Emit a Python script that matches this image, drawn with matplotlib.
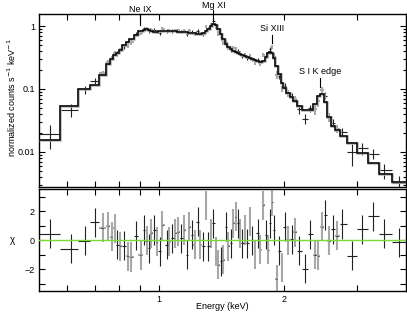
import numpy as np
import matplotlib
matplotlib.use("Agg")
import matplotlib.pyplot as plt
from matplotlib.ticker import FixedLocator, FixedFormatter, NullFormatter, LogLocator

# ---- data ----
energy = [0.545, 0.612, 0.662, 0.700, 0.730, 0.754, 0.768, 0.782, 0.792, 0.804,
          0.824, 0.839, 0.855, 0.879, 0.903, 0.919, 0.932, 0.943, 0.957, 0.973,
          0.986, 1.004, 1.017, 1.042, 1.055, 1.075, 1.091, 1.111, 1.128, 1.149,
          1.164, 1.181, 1.197, 1.219, 1.238, 1.253, 1.277, 1.296, 1.313, 1.332,
          1.349, 1.370, 1.387, 1.408, 1.426, 1.448, 1.467, 1.489, 1.508, 1.528,
          1.545, 1.565, 1.585, 1.609, 1.630, 1.654, 1.675, 1.701, 1.726, 1.748,
          1.781, 1.808, 1.831, 1.848, 1.872, 1.890, 1.918, 1.946, 1.976, 2.005,
          2.039, 2.085, 2.123, 2.175, 2.245, 2.308, 2.373, 2.417, 2.471, 2.508,
          2.569, 2.622, 2.681, 2.763, 2.913, 3.087, 3.279, 3.488, 3.771]

model = [0.0157, 0.0532, 0.0993, 0.115, 0.166, 0.248, 0.298, 0.345, 0.378, 0.422,
         0.498, 0.556, 0.621, 0.732, 0.833, 0.873, 0.896, 0.880, 0.848, 0.817,
         0.817, 0.833, 0.842, 0.848, 0.842, 0.833, 0.826, 0.817, 0.811, 0.803,
         0.797, 0.788, 0.779, 0.768, 0.760, 0.760, 0.774, 0.833, 0.912, 1.019,
         1.096, 1.037, 0.896, 0.746, 0.621, 0.517, 0.472, 0.430, 0.407, 0.385,
         0.372, 0.354, 0.341, 0.329, 0.321, 0.309, 0.300, 0.291, 0.282, 0.272,
         0.282, 0.327, 0.372, 0.385, 0.372, 0.315, 0.231, 0.172, 0.124, 0.103,
         0.0857, 0.0740, 0.0639, 0.0532, 0.0468, 0.0468, 0.0573, 0.0768, 0.0827, 0.0616,
         0.0360, 0.0256, 0.0221, 0.0179, 0.0141, 0.00962, 0.00666, 0.00451, 0.00332]

chi = [0.43, -0.6, -0.05, 1.23, 0.86, 0.97, 0.25, 0.82, -0.32, -0.43,
       -0.39, -1.1, -1.16, 0.3, -1.05, 0.7, -0.05, -0.55, 0.48, 0.7,
       -0.1, -0.78, 1.04, -0.32, -0.1, 0.14, 0.48, 0.59, 0.14, 0.7,
       -1.0, 0.93, 0.36, -0.32, 1.27, -0.32, -0.43, 2.4, -0.43, 0.48,
       1.16, -0.78, -1.68, -1.46, -1.34, 0.93, -0.43, -0.2, 1.16, 1.6,
       1.16, 0.48, -0.2, 0.7, -0.2, 1.27, 0.0, -1.0, 0.48, -0.66,
       2.4, 0.36, -0.66, 1.16, 2.63, 0.7, -2.7, -0.73, -1.91, 0.93,
       0.0, 0.05, 0.55, -0.73, -1.98, 0.41, -1.0, -1.07, 0.93, 1.73,
       -0.05, 0.75, 0.3, 1.11, -1.07, 0.75, 1.66, 0.43, -0.14]

rel_err = [0.5, 0.2, 0.15, 0.13, 0.09, 0.09, 0.09, 0.09, 0.09, 0.09,
           0.09, 0.09, 0.09, 0.09, 0.07, 0.07, 0.07, 0.07, 0.07, 0.07,
           0.07, 0.07, 0.07, 0.07, 0.07, 0.07, 0.07, 0.07, 0.07, 0.07,
           0.07, 0.07, 0.07, 0.07, 0.07, 0.07, 0.07, 0.07, 0.07, 0.07,
           0.08, 0.08, 0.08, 0.08, 0.08, 0.08, 0.08, 0.08, 0.08, 0.08,
           0.08, 0.08, 0.08, 0.08, 0.08, 0.08, 0.08, 0.08, 0.08, 0.08,
           0.1, 0.1, 0.1, 0.1, 0.1, 0.1, 0.1, 0.1, 0.1, 0.1,
           0.14, 0.14, 0.14, 0.14, 0.14, 0.14, 0.16, 0.16, 0.16, 0.16,
           0.16, 0.16, 0.16, 0.16, 0.28, 0.25, 0.25, 0.3, 0.3]

# detector: 0 = dark, 1 = grey
group = [0, 0, 0, 0, 1, 1, 1, 1, 0, 1,
         0, 1, 1, 0, 1, 0, 1, 0, 1, 0,
         1, 0, 1, 0, 1, 0, 1, 1, 0, 1,
         0, 1, 0, 1, 0, 1, 0, 1, 0, 1,
         0, 1, 1, 0, 1, 0, 1, 0, 1, 1,
         0, 1, 0, 1, 0, 1, 0, 1, 0, 1,
         1, 0, 1, 0, 1, 0, 1, 0, 1, 0,
         1, 0, 1, 0, 0, 0, 1, 1, 1, 0,
         1, 0, 1, 0, 0, 0, 0, 0, 0]

line_names = ["Ne IX", "Mg XI", "Si XIII", "S I K edge"]
line_energy = [0.90, 1.35, 1.865, 2.44]

# ---- derived ----
E = np.array(energy)
M = np.array(model)
C = np.array(chi)
R = np.array(rel_err)
G = np.array(group)
logE = np.log10(E)
mid = 10 ** ((logE[:-1] + logE[1:]) / 2)
lo = np.concatenate([[E[0] ** 2 / mid[0]], mid])
hi = np.concatenate([mid, [E[-1] ** 2 / mid[-1]]])
err = R * M
data = M + C * err
edges = np.concatenate([lo, [hi[-1]]])

plt.rcParams["font.family"] = ["Liberation Sans", "DejaVu Sans"]
fig = plt.figure(figsize=(4.07, 3.12), dpi=100)
W, H = 407.0, 312.0
x0, x1 = 39 / W, 406 / W
ax1 = fig.add_axes([x0, 1 - 187.3 / H, x1 - x0, (187.3 - 14.3) / H])
ax2 = fig.add_axes([x0, 1 - 291 / H, x1 - x0, (291 - 189.3) / H])

xlim = (0.513, 3.93)
styles = {0: dict(color="#222222", lw=0.8), 1: dict(color="#a8a8a8", lw=1.5)}

for g in (1, 0):
    m = G == g
    st = styles[g]
    ax1.errorbar(E[m], data[m], yerr=err[m], xerr=[E[m] - lo[m], hi[m] - E[m]],
                 fmt="none", ecolor=st["color"], elinewidth=st["lw"], capsize=0, zorder=2)
    ax2.errorbar(E[m], C[m], yerr=1.0, xerr=[E[m] - lo[m], hi[m] - E[m]],
                 fmt="none", ecolor=st["color"], elinewidth=st["lw"], capsize=0, zorder=2)
    if g == 1:
        ax2.errorbar(E[m], C[m], xerr=[(E[m] - lo[m]) * 0.3, (hi[m] - E[m]) * 0.3],
                     fmt="none", ecolor="#333333", elinewidth=0.8, capsize=0, zorder=3)

ax1.stairs(M, edges, color="#b4b4b4", lw=1.8, baseline=None, zorder=3)
ax1.stairs(M, edges, color="black", lw=1.1, baseline=None, zorder=4)

ax2.axhline(0, color="#77dd33", lw=1.0, zorder=4)

for ax in (ax1, ax2):
    ax.set_xscale("log")
    ax.set_xlim(*xlim)
    ax.xaxis.set_major_locator(FixedLocator([0.6, 0.7, 0.8, 0.9, 1, 2, 3]))
    ax.xaxis.set_minor_locator(FixedLocator([]))
    ax.tick_params(which="both", direction="in", top=True, right=True,
                   labelsize=6.5, width=0.8, pad=3)
    ax.tick_params(which="major", length=4)
    ax.tick_params(which="minor", length=2.2)
    for s in ax.spines.values():
        s.set_linewidth(1.0)

ax1.set_yscale("log")
ax1.set_ylim(0.00274, 1.535)
ax1.yaxis.set_major_locator(FixedLocator([0.01, 0.1, 1]))
ax1.yaxis.set_major_formatter(FixedFormatter(["0.01", "0.1", "1"]))
ax1.yaxis.set_minor_locator(LogLocator(base=10, subs=np.arange(2, 10), numticks=20))
ax1.yaxis.set_minor_formatter(NullFormatter())
ax1.xaxis.set_major_formatter(NullFormatter())

ax2.set_ylim(-3.5, 3.5)
ax2.yaxis.set_major_locator(FixedLocator([-3, -2, -1, 0, 1, 2, 3]))
ax2.yaxis.set_major_formatter(FixedFormatter(["", "\u22122", "", "0", "", "2", ""]))
ax2.xaxis.set_major_formatter(FixedFormatter(["", "", "", "", "1", "2", ""]))

# line markers
tr = ax1.get_xaxis_transform()
ax_h = 173.0
def fy(py):
    return (187.3 - py) / ax_h
marks = [(fy(9.3), fy(14.0), fy(25.0)),
         (fy(5.0), fy(10.0), fy(20.0)),
         (fy(28.3), fy(35.0), fy(43.3)),
         (fy(71.0), fy(78.3), fy(86.7))]
for name, e, (ty, l1, l2) in zip(line_names, line_energy, marks):
    ax1.text(e, ty, name, transform=tr, ha="center", va="center", fontsize=6.5, clip_on=False)
    ax1.plot([e, e], [l1, l2], transform=tr, color="black", lw=0.8, clip_on=False)

fig.text(12 / W, 1 - 98 / H, "normalized counts s$^{-1}$ keV$^{-1}$", rotation=90,
         ha="center", va="center", fontsize=6.5)
fig.text(12 / W, 1 - 240 / H, "\u03c7", ha="center", va="center", fontsize=7)
fig.text(222 / W, 1 - 306.5 / H, "Energy (keV)", ha="center", va="center", fontsize=6.5)

fig.savefig("out.png", dpi=100)
